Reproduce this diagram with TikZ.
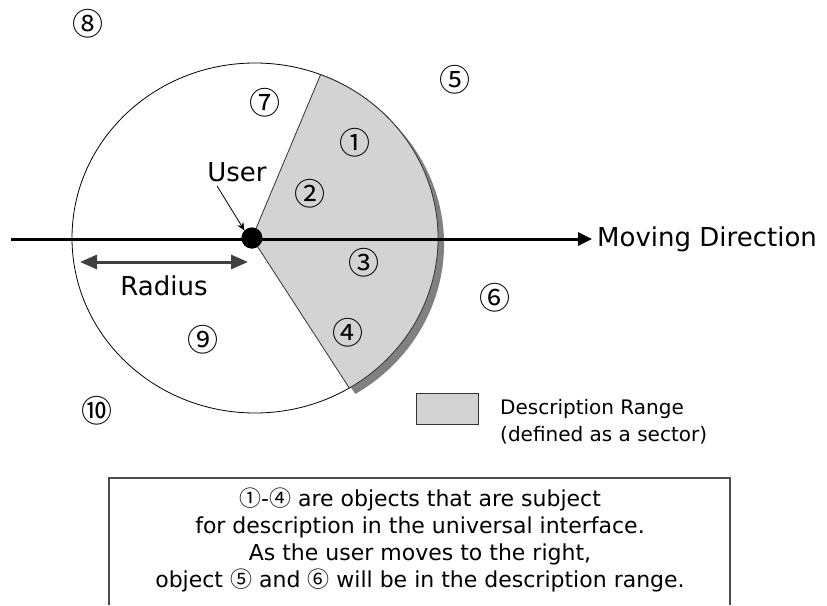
\documentclass[tikz,border=0pt]{standalone}
\usepackage{fontspec}
\setmainfont{DejaVu Sans}
\newfontfamily\cjk{Noto Sans CJK JP}
\usetikzlibrary{positioning, calc, arrows.meta}
\definecolor{rangegray}{RGB}{211,211,211}
\tikzset{
  > = {Stealth[length = 14pt, width = 12pt]},
  object/.style = {inner sep = 0pt, font = \cjk\fontsize{31}{31}\selectfont},
  biglabel/.style = {inner sep = 0pt, font = \fontsize{26}{30}\selectfont},
  smalllabel/.style = {inner sep = 0pt, font = \fontsize{20}{26.5}\selectfont},
  notetext/.style = {inner sep = 0pt, font = \fontsize{22}{26.7}\selectfont},
  sectorfill/.style = {fill = rangegray, draw = black!80, line width = 0.8pt},
  shadow/.style = {fill = black!50},
  axis/.style = {->, line width = 3pt, >={Triangle[length = 14pt, width = 13pt]}},
  radiusline/.style = {<->, draw = black!75, line width = 3pt,
    >={Triangle[length = 17pt, width = 14pt]}},
  pointer/.style = {->, line width = 0.8pt, >={Stealth[length = 8pt, width = 7pt]}},
  notebox/.style = {draw = black!70, line width = 1.4pt}
}

\begin{document}
\begin{tikzpicture}[x = 1pt, y = 1pt]
\useasboundingbox (0,0) rectangle (827,-605);

% circle of the range
\coordinate (c) at (255,-238);
\draw [line width = 0.8pt] (c) ellipse [x radius = 183, y radius = 175];

% user and sector
\node [circle, fill, minimum size = 21pt, inner sep = 0pt] (user) at (252,-238) {};
\coordinate (top) at ($(c)+(69:183 and 175)$);
\begin{scope}[transform canvas = {shift = {(6pt,-6pt)}}]
  \fill [shadow] (user.center) -- (top) arc [start angle = 69, end angle = -59,
    x radius = 183, y radius = 175] -- cycle;
\end{scope}
\draw [sectorfill] (user.center) -- (top) arc [start angle = 69, end angle = -59,
  x radius = 183, y radius = 175] -- cycle;

% moving direction
\coordinate (axisstart) at (11,-239);
\node [biglabel, anchor = west, inner sep = 5pt] (move) at (592,-239) {Moving Direction};
\draw [axis] (axisstart) -- (move.west);
\node [circle, fill, minimum size = 21pt, inner sep = 0pt] at (user) {};

\node [biglabel] (userlabel) at (237,-172) {User};
\draw [pointer] ($(userlabel.south)+(-20,-4)$) -- (user.north west);

% radius
\coordinate (rleft) at (80,-262);
\coordinate (rright) at (248,-262);
\draw [radiusline] (rleft) -- (rright);
\node [biglabel] (radius) at (164,-286) {Radius};

% objects
\node [object] (o1) at (355,-143) {①};
\node [object] (o2) at (310,-194) {②};
\node [object] (o3) at (364,-263) {③};
\node [object] (o4) at (348,-333) {④};
\node [object] (o5) at (455,-80) {⑤};
\node [object] (o6) at (495,-298) {⑥};
\node [object] (o7) at (265,-103) {⑦};
\node [object] (o8) at (88,-24) {⑧};
\node [object] (o9) at (203,-340) {⑨};
\node [object] (o10) at (97,-411) {⑩};

% legend
\node [sectorfill, minimum width = 62pt, minimum height = 31pt, inner sep = 0pt]
  (legend) at (447,-408.5) {};
\node [smalllabel, anchor = west, align = left] (legendtext) at (500,-421.5)
  {Description Range\\(defined as a sector)};

% note
\draw [notebox] (109,-605) |- (730,-478) -- (730,-605);
\node [notetext, align = center] (note) at (420,-540)
  {{\cjk ①}-{\cjk ④} are objects that are subject\\
   for description in the universal interface.\\
   As the user moves to the right,\\
   object {\cjk ⑤} and {\cjk ⑥} will be in the description range.};

\end{tikzpicture}
\end{document}
